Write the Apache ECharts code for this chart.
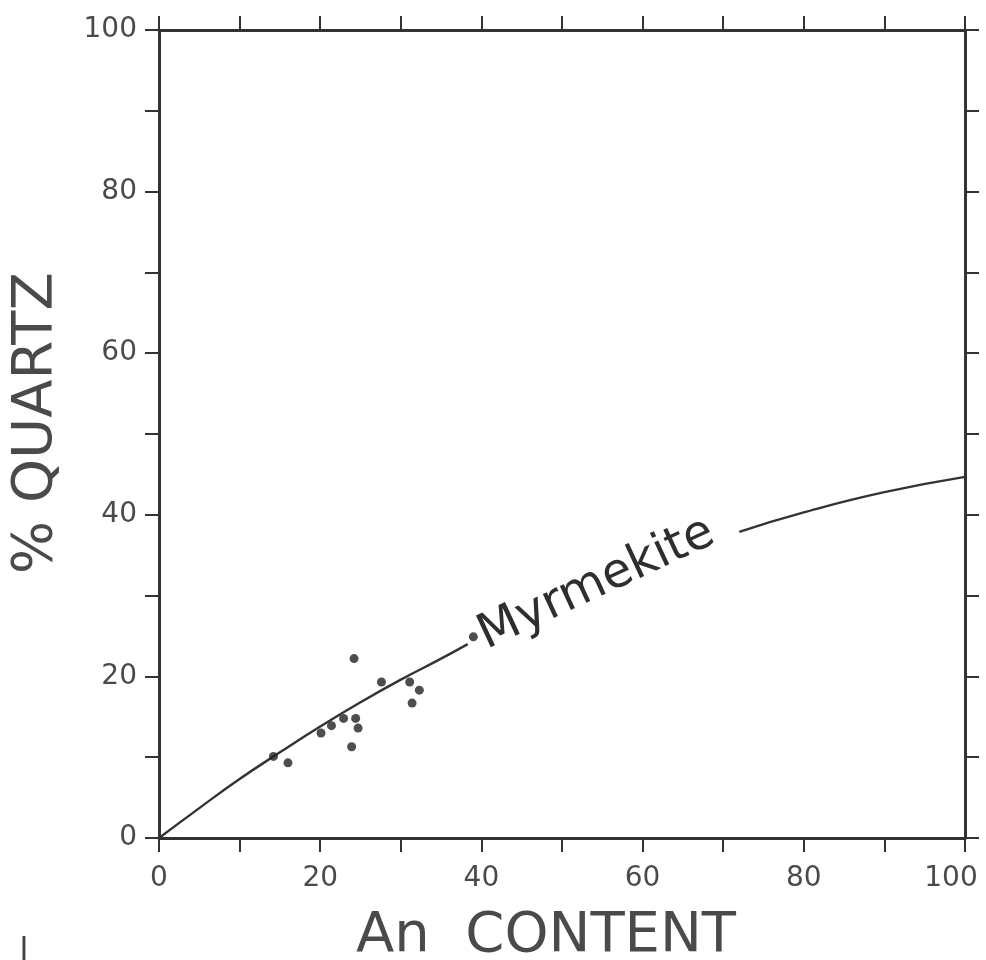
<!DOCTYPE html>
<html>
<head>
<meta charset="utf-8">
<script src="https://cdn.jsdelivr.net/npm/echarts@6/dist/echarts.min.js"></script>
<style>html,body{margin:0;padding:0;background:#fff;overflow:hidden}#c{width:986px;height:960px}</style>
</head>
<body>
<div id="c"></div>
<script>
// Measured samples (An content, % quartz)
var sampleAn     = [14.2, 16.0, 20.1, 21.4, 22.9, 24.4, 24.7, 23.9, 24.2, 27.6, 31.1, 32.3, 31.4, 39.0];
var sampleQuartz = [10.1,  9.3, 13.0, 13.9, 14.8, 14.8, 13.6, 11.3, 22.2, 19.3, 19.3, 18.3, 16.7, 24.9];

// Myrmekite curve (gap where the label sits)
var curveLowAn  = [0, 5, 10, 15, 20, 25, 30, 35, 38.3];
var curveLowQz  = [0, 3.7, 7.3, 10.6, 13.8, 16.8, 19.6, 22.2, 24.0];
var curveHighAn = [72, 80, 90, 100];
var curveHighQz = [37.9, 40.3, 42.8, 44.7];

var xTickLabels = ['0', '20', '40', '60', '80', '100'];
var yTickLabels = ['0', '20', '40', '60', '80', '100'];

var labelPos = [54.3, 31.4];

function zip(a, b) { return a.map(function (v, i) { return [v, b[i]]; }); }

var ink = '#333';
var font = 'DejaVu Sans';

var chart = echarts.init(document.getElementById('c'), null, {renderer: 'canvas', width: 986, height: 960});

function axisBase(pos, showLabels, labels) {
  return {
    type: 'value', min: 0, max: 100, interval: 20, position: pos,
    axisLine: {show: true, onZero: false, lineStyle: {color: ink, width: 3}},
    axisTick: {show: true, inside: false, length: 14, lineStyle: {color: ink, width: 2}},
    minorTick: {show: true, splitNumber: 2, length: 14, lineStyle: {color: ink, width: 2}},
    splitLine: {show: false},
    axisLabel: {
      show: showLabels, margin: 24, color: '#4a4a4a', fontFamily: font, fontSize: 28,
      formatter: function (v) { return labels ? labels[Math.round(v / 20)] : ''; }
    }
  };
}

var xBottom = axisBase('bottom', true, xTickLabels);
xBottom.axisLabel.margin = 27;
xBottom.axisLabel.formatter = function (v) {
  var t = xTickLabels[Math.round(v / 20)];
  return v === 100 ? '{last|' + t + '}' : t;
};
xBottom.axisLabel.rich = {
  last: {fontFamily: font, fontSize: 28, color: '#4a4a4a', padding: [0, 28, 0, 0]}
};
var xTop = axisBase('top', false);
var yLeft = axisBase('left', true, yTickLabels);
yLeft.axisLabel.margin = 22;
var yRight = axisBase('right', false);

chart.setOption({
  animation: false,
  backgroundColor: '#fff',
  grid: {left: 159, right: 21, top: 30, bottom: 122, containLabel: false, outerBoundsMode: 'none'},
  xAxis: [xBottom, xTop],
  yAxis: [yLeft, yRight],
  series: [
    {type: 'line', data: zip(curveLowAn, curveLowQz), smooth: true, showSymbol: false,
     lineStyle: {color: ink, width: 2.4}, z: 2},
    {type: 'line', data: zip(curveHighAn, curveHighQz), smooth: true, showSymbol: false,
     lineStyle: {color: ink, width: 2.4}, z: 2},
    {type: 'scatter', data: zip(sampleAn, sampleQuartz), symbol: 'circle', symbolSize: 9,
     itemStyle: {color: '#222'}, z: 3}
  ]
});

var p = chart.convertToPixel({xAxisIndex: 0, yAxisIndex: 0}, labelPos);

chart.setOption({
  graphic: [
    {type: 'text', x: p[0], y: p[1], rotation: 25 * Math.PI / 180,
     style: {text: 'Myrmekite', fill: '#2e2e2e', font: '48px "DejaVu Sans"',
             textAlign: 'center', textVerticalAlign: 'middle'}},
    {type: 'text', x: 36, y: 423, rotation: Math.PI / 2,
     style: {text: '% QUARTZ', fill: '#4a4a4a', font: '56px "DejaVu Sans"',
             textAlign: 'center', textVerticalAlign: 'middle'}},
    {type: 'text', x: 546, y: 936,
     style: {text: 'An  CONTENT', fill: '#4a4a4a', font: '56px "DejaVu Sans"',
             textAlign: 'center', textVerticalAlign: 'middle'}},
    {type: 'text', x: 24, y: 952,
     style: {text: 'l', fill: '#444', font: '32px "DejaVu Sans"',
             textAlign: 'center', textVerticalAlign: 'middle'}}
  ]
});
</script>
</body>
</html>
